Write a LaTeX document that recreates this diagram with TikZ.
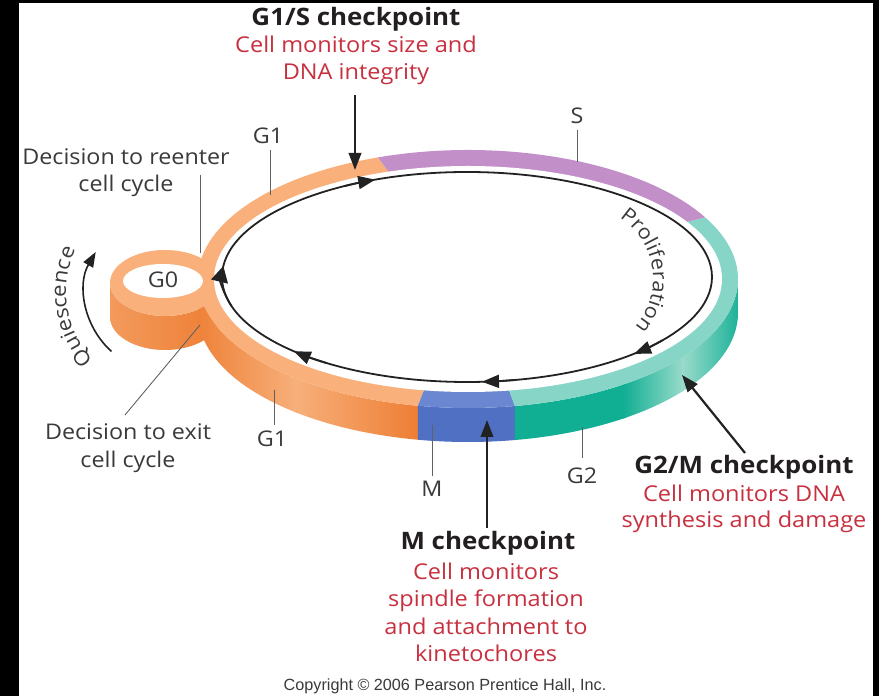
\documentclass[tikz,border=0pt]{standalone}
\usepackage{fontspec}
\setmainfont{Open Sans}[FakeStretch=1.08]
\newfontfamily\copyfont{Liberation Sans}
\usetikzlibrary{arrows.meta,calc,decorations.text}
\definecolor{ttlcol}{HTML}{231F20}
\definecolor{redcol}{HTML}{C8303F}
\definecolor{lblcol}{HTML}{3A3A3A}
\definecolor{loopcol}{HTML}{222222}
\definecolor{orTop}{HTML}{F9B07A}
\definecolor{orDark}{HTML}{EE7E34}
\definecolor{orMid}{HTML}{F29A5C}
\definecolor{orLight}{HTML}{F7B07B}
\definecolor{puTop}{HTML}{C28FC8}
\definecolor{teTop}{HTML}{86D5C6}
\definecolor{teDark}{HTML}{10AE93}
\definecolor{teLight}{HTML}{9ADBCB}
\definecolor{blTop}{HTML}{6C87D1}
\definecolor{blSide}{HTML}{4F70C3}
\tikzset{
  ttl/.style={text=ttlcol, font=\fontsize{24}{28}\selectfont\bfseries, anchor=base, inner sep=0},
  redtxt/.style={text=redcol, font=\fontsize{21.8}{26}\selectfont, anchor=base, inner sep=0},
  lbl/.style={text=lblcol, font=\fontsize{21.6}{26}\selectfont, anchor=base, inner sep=0},
  leader/.style={draw=lblcol!80, line width=0.9pt},
  chk/.style={draw=loopcol, line width=2.2pt, -{Triangle[length=17pt,width=12.5pt]}},
  loopline/.style={draw=loopcol, line width=1.8pt},
  looptip/.style={draw=loopcol, line width=1.8pt, -{Triangle[length=17pt,width=13pt]}},
}
\begin{document}
\begin{tikzpicture}[x=1pt,y=1pt]
\useasboundingbox (0,0) rectangle (879,696);
\fill[white] (0,0) rectangle (879,696);
\fill[black] (0,0) rectangle (19,696);
\fill[black] (0,693) rectangle (879,696);
\fill[black] (873,0) rectangle (879,696);
% centres
\coordinate (C) at (468,417);
\coordinate (L) at (467,419);
\coordinate (G) at (165,413);
\coordinate (Q) at (165,404);
\coordinate (P) at (580,417);
% G0 side face
\shade[left color=orMid, middle color=orLight, right color=orDark]
  ($(G)+(180:55 and 33)$) arc[start angle=180, end angle=360, x radius=55, y radius=33]
  -- ++(0,-34) arc[start angle=360, end angle=180, x radius=55, y radius=33] -- cycle;
% ring side faces
\shade[left color=orDark!85!orMid, right color=orLight]
  ($(C)+(180:270 and 129)$) arc[start angle=180, end angle=231, x radius=270, y radius=129]
  -- ++(0,-34) arc[start angle=231, end angle=180, x radius=270, y radius=129] -- cycle;
\shade[left color=orLight, right color=orDark]
  ($(C)+(230:270 and 129)$) arc[start angle=230, end angle=259.3, x radius=270, y radius=129]
  -- ++(0,-34) arc[start angle=259.3, end angle=230, x radius=270, y radius=129] -- cycle;
\fill[blSide]
  ($(C)+(259.3:270 and 129)$) arc[start angle=259.3, end angle=280, x radius=270, y radius=129]
  -- ++(0,-34) arc[start angle=280, end angle=259.3, x radius=270, y radius=129] -- cycle;
\fill[teDark]
  ($(C)+(280:270 and 129)$) arc[start angle=280, end angle=306, x radius=270, y radius=129]
  -- ++(0,-34) arc[start angle=306, end angle=280, x radius=270, y radius=129] -- cycle;
\shade[left color=teDark, right color=teLight]
  ($(C)+(305:270 and 129)$) arc[start angle=305, end angle=323, x radius=270, y radius=129]
  -- ++(0,-34) arc[start angle=323, end angle=305, x radius=270, y radius=129] -- cycle;
\shade[left color=teLight, right color=teDark!90!teLight]
  ($(C)+(322.5:270 and 129)$) arc[start angle=322.5, end angle=360, x radius=270, y radius=129]
  -- ++(0,-34) arc[start angle=360, end angle=322.5, x radius=270, y radius=129] -- cycle;
% top surfaces
\fill[orTop] (G) ellipse[x radius=55, y radius=33];
\fill[orTop] (C) -- ($(C)+(109.5:270 and 129)$) arc[start angle=109.5, end angle=259.3, x radius=270, y radius=129] -- cycle;
\fill[blTop] (C) -- ($(C)+(259.3:270 and 129)$) arc[start angle=259.3, end angle=280, x radius=270, y radius=129] -- cycle;
\fill[teTop] (C) -- ($(C)+(280:270 and 129)$) arc[start angle=280, end angle=388.6, x radius=270, y radius=129] -- cycle;
\fill[puTop] (C) -- ($(C)+(28.6:270 and 129)$) arc[start angle=28.6, end angle=109.5, x radius=270, y radius=129] -- cycle;
\fill[white] (C) ellipse[x radius=254, y radius=113];
\fill[white] (163,415) ellipse[x radius=40, y radius=17];
% proliferation loop
\draw[loopline] (L) ellipse[x radius=245, y radius=105];
\foreach \t/\s in {112/8,225/10,273.5/8,313/10}{
  \draw[looptip] ($(L)+(\t+\s:245 and 105)$) arc[start angle=\t+\s, end angle=\t, x radius=245, y radius=105];
}
\draw[loopline, -{Triangle[length=16pt,width=17pt]}] ($(L)+(196:245 and 105)$) arc[start angle=196, end angle=174, x radius=245, y radius=105];
\path[decorate, decoration={text along path, text align=center,
  text={|\fontsize{20}{22}\selectfont\color{lblcol}|Proliferation}}]
  ($(P)+(80:73)$) arc[start angle=80, end angle=-64, radius=73];
% quiescence
\draw[draw=loopcol, line width=1.6pt, -{Triangle[length=15pt,width=11pt]}]
  ($(Q)+(228:80)$) arc[start angle=228, end angle=150, radius=80];
\path[decorate, decoration={text along path, text align=center,
  text={|\fontsize{20.5}{22}\selectfont\color{lblcol}|Quiescence}}]
  ($(Q)+(232:99)$) arc[start angle=232, end angle=146, radius=99];
% G1/S checkpoint
\node[ttl] (g1st) at (356,670) {G1/S checkpoint};
\node[redtxt] (g1s1) at (356,643) {Cell monitors size and};
\node[redtxt] (g1s2) at (356,616) {DNA integrity};
\coordinate (g1sA) at (355,601);
\coordinate (g1sB) at (355,526);
\draw[chk] (g1sA) -- (g1sB);
% labels
\node[lbl] (s) at (577,572) {S};
\coordinate (sA) at (577,566); \coordinate (sB) at (577,534);
\draw[leader] (sA) -- (sB);
\node[lbl] (g1a) at (268,552) {G1};
\coordinate (g1aA) at (270,546); \coordinate (g1aB) at (270,501);
\draw[leader] (g1aA) -- (g1aB);
\node[lbl] (dre1) at (126,531) {Decision to reenter};
\node[lbl] (dre2) at (126,504) {cell cycle};
\coordinate (dreA) at (200,521); \coordinate (dreB) at (200,443);
\draw[leader] (dreA) -- (dreB);
\node[lbl] (g0) at (163,408) {G0};
\node[lbl] (dex1) at (128,256) {Decision to exit};
\node[lbl] (dex2) at (128,228) {cell cycle};
\coordinate (dexA) at (200,371); \coordinate (dexB) at (125,281);
\draw[leader] (dexA) -- (dexB);
\node[lbl] (g1b) at (272,249) {G1};
\coordinate (g1bA) at (274,306); \coordinate (g1bB) at (274,271);
\draw[leader] (g1bA) -- (g1bB);
\node[lbl] (m) at (432,199) {M};
\coordinate (mA) at (432,271); \coordinate (mB) at (432,220);
\draw[leader] (mA) -- (mB);
\node[lbl] (g2) at (582,212) {G2};
\coordinate (g2A) at (582,269); \coordinate (g2B) at (582,238);
\draw[leader] (g2A) -- (g2B);
% M checkpoint
\coordinate (mcA) at (487,168); \coordinate (mcB) at (487,276);
\draw[chk] (mcA) -- (mcB);
\node[ttl] (mct) at (488,146) {M checkpoint};
\node[redtxt] (mc1) at (486,116) {Cell monitors};
\node[redtxt] (mc2) at (486,89) {spindle formation};
\node[redtxt] (mc3) at (486,61) {and attachment to};
\node[redtxt] (mc4) at (486,34) {kinetochores};
% G2/M checkpoint
\coordinate (gmA) at (745,243); \coordinate (gmB) at (682,321);
\draw[chk] (gmA) -- (gmB);
\node[ttl] (gmt) at (744,222) {G2/M checkpoint};
\node[redtxt] (gm1) at (744,194) {Cell monitors DNA};
\node[redtxt] (gm2) at (744,168) {synthesis and damage};
% copyright
\node[text=lblcol, font=\copyfont\fontsize{16.2}{18}\selectfont, anchor=base, inner sep=0] (copy) at (445,5) {Copyright © 2006 Pearson Prentice Hall, Inc.};
\end{tikzpicture}
\end{document}
